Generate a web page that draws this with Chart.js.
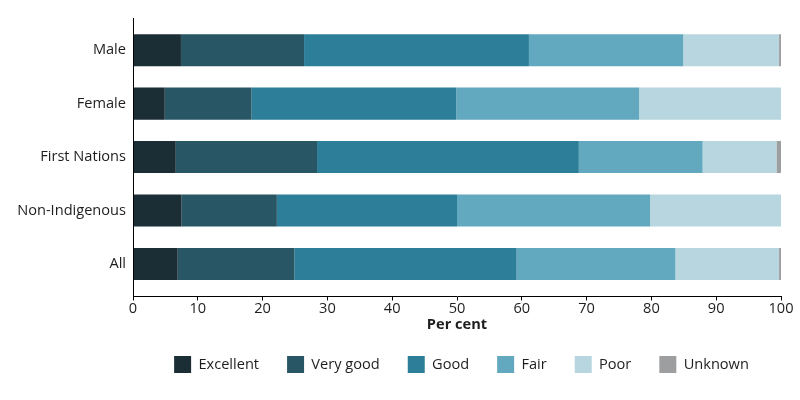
<!DOCTYPE html>
<html>
<head>
<meta charset="utf-8">
<script src="https://cdn.jsdelivr.net/npm/chart.js@4/dist/chart.umd.min.js"></script>
<style>
  html, body { margin: 0; padding: 0; background: #fff; }
  #wrap { width: 800px; height: 400px; position: relative; }
</style>
</head>
<body>
<div id="wrap"><canvas id="c" width="800" height="400"></canvas></div>
<script>
const categories = ['Male', 'Female', 'First Nations', 'Non-Indigenous', 'All'];
const excellent = [7.4, 4.9, 6.6, 7.5, 6.9];
const veryGood  = [19.0, 13.4, 21.8, 14.7, 18.0];
const good      = [34.7, 31.6, 40.4, 27.8, 34.3];
const fair      = [23.8, 28.2, 19.1, 29.8, 24.5];
const poor      = [14.8, 21.9, 11.4, 20.2, 16.0];
const unknown   = [0.3, 0, 0.7, 0, 0.3];
const seriesNames = ['Excellent', 'Very good', 'Good', 'Fair', 'Poor', 'Unknown'];
const seriesColors = ['#1b2e36', '#295665', '#2d7e99', '#62a9c0', '#b8d6df', '#9c9ea0'];
const xTicks = [0, 10, 20, 30, 40, 50, 60, 70, 80, 90, 100];

const FONT = "'Open Sans', 'Noto Sans', sans-serif";
const FS = 14.6;
const TEXT = '#1e1e1e';

const seriesData = [excellent, veryGood, good, fair, poor, unknown];
const datasets = seriesNames.map((name, i) => ({
  label: name,
  data: seriesData[i],
  backgroundColor: seriesColors[i],
  borderWidth: 0,
  barPercentage: 0.6,
  categoryPercentage: 1.0
}));

const axisPlugin = {
  id: 'axisAdjust',
  afterLayout(chart) {
    const y = chart.scales.y;
    const ca = chart.chartArea;
    y.top = ca.top + 5.5;
    y.bottom = ca.bottom - 5.8;
    y.height = y.bottom - y.top;
    y.configure();
    const lg = chart.legend;
    if (lg) {
      lg.left = lg.left + 142;
      lg.top = lg.top - 5.5;
      lg.bottom = lg.bottom - 5.5;
    }
  },
  afterDraw(chart) {
    const ctx = chart.ctx;
    const ca = chart.chartArea;
    ctx.save();
    ctx.strokeStyle = '#000';
    ctx.lineWidth = 1;
    const x = Math.round(ca.left) + 0.5;
    ctx.beginPath();
    ctx.moveTo(x, ca.top);
    ctx.lineTo(x, ca.bottom + 0.5);
    ctx.stroke();
    ctx.restore();
  }
};

new Chart(document.getElementById('c'), {
  type: 'bar',
  data: { labels: categories, datasets },
  plugins: [axisPlugin],
  options: {
    indexAxis: 'y',
    responsive: false,
    animation: false,
    layout: { padding: { top: 18, left: 0, right: 19, bottom: 11.5 } },
    scales: {
      x: {
        stacked: true,
        min: 0,
        max: 100,
        afterBuildTicks(scale) { scale.ticks = xTicks.map(v => ({ value: v })); },
        grid: { display: true, drawOnChartArea: false, drawTicks: true, tickLength: 4, color: '#000', lineWidth: 1 },
        border: { display: true, color: '#000', width: 1 },
        ticks: { font: { family: FONT, size: FS }, color: TEXT, padding: 0, maxRotation: 0 },
        title: { display: true, text: 'Per cent', font: { family: FONT, size: FS, weight: 'bold' }, color: TEXT, padding: { top: -2, bottom: 0 } }
      },
      y: {
        stacked: true,
        afterFit(scale) { scale.width = 133; },
        grid: { display: false, drawTicks: false },
        border: { display: false },
        ticks: { font: { family: FONT, size: FS }, color: TEXT, padding: 7 }
      }
    },
    plugins: {
      legend: {
        position: 'bottom',
        labels: { font: { family: FONT, size: FS }, color: TEXT, boxWidth: 17, boxHeight: 17, padding: 28 }
      },
      tooltip: { enabled: false }
    }
  }
});
</script>
</body>
</html>
